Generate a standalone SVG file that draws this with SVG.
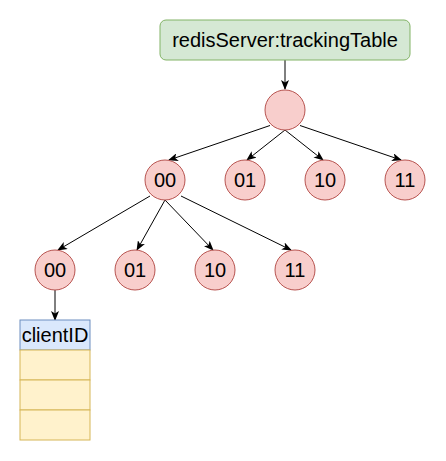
<svg xmlns="http://www.w3.org/2000/svg" width="446" height="461" viewBox="0 0 446 461">
<style>
text{font-family:"Liberation Sans",Arial,Helvetica,sans-serif;font-size:20px;fill:#000;text-anchor:middle}
.c{fill:#f8cecc;stroke:#b85450;stroke-width:1}
.e{stroke:#000;stroke-width:1;fill:none;marker-end:url(#a)}
</style>
<defs>
<marker id="a" viewBox="0 0 10 8" refX="9" refY="4" markerWidth="10" markerHeight="8" markerUnits="userSpaceOnUse" orient="auto">
<path d="M0,0 L10,4 L0,8 L2.5,4 z" fill="#000"/>
</marker>
</defs>
<rect width="446" height="461" fill="#fff"/>
<g id="connectors">
<line class="e" x1="285" y1="60" x2="285" y2="89"/>
<line class="e" x1="270" y1="125.5" x2="169" y2="160"/>
<line class="e" x1="285" y1="130" x2="247" y2="160"/>
<line class="e" x1="285" y1="130" x2="323" y2="160"/>
<line class="e" x1="300" y1="125.5" x2="401" y2="160"/>
<line class="e" x1="150" y1="196" x2="58" y2="250"/>
<line class="e" x1="165" y1="200" x2="137" y2="250"/>
<line class="e" x1="165" y1="200" x2="213" y2="250"/>
<line class="e" x1="181" y1="196" x2="291" y2="250"/>
<line class="e" x1="55" y1="290" x2="55" y2="320"/>
</g>
<g id="trackingTable">
<rect x="160" y="20" width="250" height="40" rx="6" fill="#d5e8d4" stroke="#82b366"/>
<text x="285" y="47">redisServer:trackingTable</text>
</g>
<g id="root"><circle class="c" cx="285" cy="110" r="20"/></g>
<g id="l1-00"><circle class="c" cx="165" cy="180" r="20"/><text x="165" y="187">00</text></g>
<g id="l1-01"><circle class="c" cx="245" cy="180" r="20"/><text x="245" y="187">01</text></g>
<g id="l1-10"><circle class="c" cx="325" cy="180" r="20"/><text x="325" y="187">10</text></g>
<g id="l1-11"><circle class="c" cx="405" cy="180" r="20"/><text x="405" y="187">11</text></g>
<g id="l2-00"><circle class="c" cx="55" cy="270" r="20"/><text x="55" y="277">00</text></g>
<g id="l2-01"><circle class="c" cx="135" cy="270" r="20"/><text x="135" y="277">01</text></g>
<g id="l2-10"><circle class="c" cx="215" cy="270" r="20"/><text x="215" y="277">10</text></g>
<g id="l2-11"><circle class="c" cx="295" cy="270" r="20"/><text x="295" y="277">11</text></g>
<g id="clientTable">
<rect x="20" y="320" width="70" height="30" fill="#dae8fc" stroke="#6c8ebf"/>
<text x="55" y="342">clientID</text>
<rect x="20" y="350" width="70" height="30" fill="#fff2cc" stroke="#d6b656"/>
<rect x="20" y="380" width="70" height="30" fill="#fff2cc" stroke="#d6b656"/>
<rect x="20" y="410" width="70" height="30" fill="#fff2cc" stroke="#d6b656"/>
</g>
</svg>
